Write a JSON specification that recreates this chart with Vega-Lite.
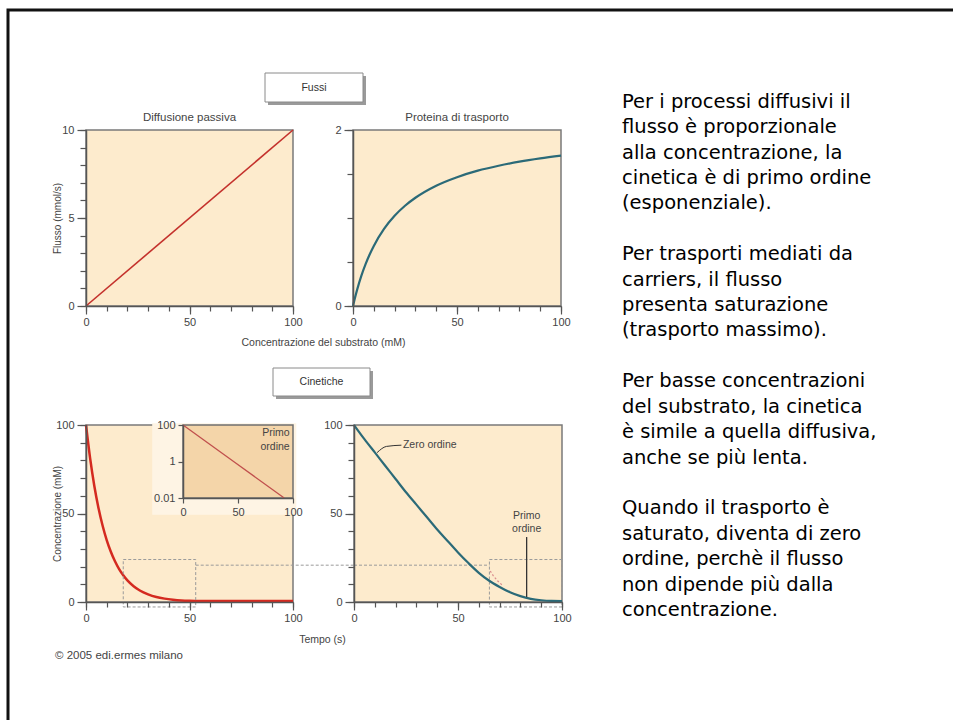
{
  "$schema": "https://vega.github.io/schema/vega-lite/v6.json",
  "width": 945,
  "height": 710,
  "autosize": "none",
  "padding": {"left": 8, "top": 10, "right": 0, "bottom": 0},
  "background": "white",
  "title": {"text": "© 2005 edi.ermes milano", "orient": "bottom", "anchor": "start", "frame": "group", "dx": 47, "offset": -64, "baseline": "middle", "fontSize": 11.5, "font": "Liberation Sans", "fontWeight": "normal", "color": "#444"},
  "config": {
    "view": {"stroke": "#111", "strokeWidth": 3, "strokeDash": [945, 1655, 710]},
    "axis": {"labelFont": "Liberation Sans", "labelFontSize": 11, "labelColor": "#444", "domainColor": "#555", "domainWidth": 1.5, "tickColor": "#555", "tickWidth": 1.2, "grid": false, "titleFont": "Liberation Sans", "titleFontSize": 10.5, "titleColor": "#444", "titleFontWeight": "normal", "labelFlush": false, "labelOverlap": false, "labelPadding": 3},
    "text": {"font": "Liberation Sans", "fontSize": 11, "color": "#444"}
  },
  "resolve": {"scale": {"x": "independent", "y": "independent"}, "axis": {"x": "independent", "y": "independent"}},
  "layer": [
    {
      "resolve": {"axis": {"x": "independent", "y": "independent"}},
      "layer": [
        {
          "data": {"values": [{"x0": 0, "x1": 100, "y0": 0, "y1": 10}]},
          "mark": {"type": "rect", "fill": "#FDEBCD", "stroke": "#7a7a7a", "strokeWidth": 1.5},
          "encoding": {
            "x": {"field": "x0", "type": "quantitative", "scale": {"domain": [0, 100], "range": [78, 285], "nice": false, "zero": false},
                  "axis": {"orient": "bottom", "offset": -414, "zindex": 1, "values": [0,10,20,30,40,50,60,70,80,90,100], "labels": false, "tickSize": 5, "title": null}},
            "x2": {"field": "x1"},
            "y": {"field": "y0", "type": "quantitative", "scale": {"domain": [0, 10], "range": [296, 120], "nice": false, "zero": false},
                  "axis": {"orient": "left", "offset": -78, "zindex": 1, "values": [0,1,2,3,4,5,6,7,8,9,10], "labels": false, "tickSize": 6, "title": null}},
            "y2": {"field": "y1"}
          }
        },
        {
          "data": {"values": [{"c": 0, "f": 0}, {"c": 100, "f": 10}]},
          "mark": {"type": "line", "color": "#C4312C", "strokeWidth": 1.6},
          "encoding": {
            "x": {"field": "c", "type": "quantitative", "axis": {"orient": "bottom", "offset": -414, "zindex": 1, "values": [0, 50, 100], "format": "d", "tickSize": 8, "labelPadding": 2, "domain": false, "title": "Concentrazione del substrato (mM)", "titleX": 315, "titleY": 36, "titleBaseline": "middle"}},
            "y": {"field": "f", "type": "quantitative", "axis": {"orient": "left", "offset": -78, "zindex": 1, "values": [0, 5, 10], "format": "d", "tickSize": 9, "domain": false, "title": "Flusso (mmol/s)", "titleX": -29, "titleY": 208, "titleBaseline": "middle", "titleFontSize": 10}}
          }
        },
        {
          "data": {"values": [{"x": 50, "y": 10, "t": "Diffusione passiva"}]},
          "mark": {"type": "text", "baseline": "middle", "dy": -12, "fontSize": 11.5},
          "encoding": {"x": {"field": "x", "type": "quantitative", "axis": null}, "y": {"field": "y", "type": "quantitative", "axis": null}, "text": {"field": "t"}}
        }
      ]
    },
    {
      "resolve": {"axis": {"x": "independent", "y": "independent"}},
      "layer": [
        {
          "data": {"values": [{"x0": 0, "x1": 100, "y0": 0, "y1": 2}]},
          "mark": {"type": "rect", "fill": "#FDEBCD", "stroke": "#7a7a7a", "strokeWidth": 1.5},
          "encoding": {
            "x": {"field": "x0", "type": "quantitative", "scale": {"domain": [0, 100], "range": [345, 553], "nice": false, "zero": false},
                  "axis": {"orient": "bottom", "offset": -414, "zindex": 1, "values": [0,10,20,30,40,50,60,70,80,90,100], "labels": false, "tickSize": 5, "title": null}},
            "x2": {"field": "x1"},
            "y": {"field": "y0", "type": "quantitative", "scale": {"domain": [0, 2], "range": [296, 120], "nice": false, "zero": false},
                  "axis": {"orient": "left", "offset": -345, "zindex": 1, "values": [0, 0.5, 1, 1.5, 2], "labels": false, "tickSize": 6, "title": null}},
            "y2": {"field": "y1"}
          }
        },
        {
          "data": {"values": [
            {"c": 0, "f": 0}, {"c": 1, "f": 0.098}, {"c": 2, "f": 0.186}, {"c": 4, "f": 0.342}, {"c": 6, "f": 0.473}, {"c": 8, "f": 0.586},
            {"c": 10, "f": 0.683}, {"c": 15, "f": 0.879}, {"c": 20, "f": 1.025}, {"c": 25, "f": 1.139}, {"c": 30, "f": 1.23},
            {"c": 40, "f": 1.367}, {"c": 50, "f": 1.464}, {"c": 60, "f": 1.538}, {"c": 70, "f": 1.594}, {"c": 80, "f": 1.64},
            {"c": 90, "f": 1.677}, {"c": 100, "f": 1.708}
          ]},
          "mark": {"type": "line", "color": "#2B6A78", "strokeWidth": 2.2, "interpolate": "monotone"},
          "encoding": {
            "x": {"field": "c", "type": "quantitative", "axis": {"orient": "bottom", "offset": -414, "zindex": 1, "values": [0, 50, 100], "format": "d", "tickSize": 8, "labelPadding": 2, "domain": false, "title": null}},
            "y": {"field": "f", "type": "quantitative", "axis": {"orient": "left", "offset": -345, "zindex": 1, "values": [0, 1, 2], "format": "d", "tickSize": 9, "domain": false, "title": null}}
          }
        },
        {
          "data": {"values": [{"x": 50, "y": 2, "t": "Proteina di trasporto"}]},
          "mark": {"type": "text", "baseline": "middle", "dy": -12, "fontSize": 11.5},
          "encoding": {"x": {"field": "x", "type": "quantitative", "axis": null}, "y": {"field": "y", "type": "quantitative", "axis": null}, "text": {"field": "t"}}
        }
      ]
    },
    {
      "resolve": {"axis": {"x": "independent", "y": "independent"}},
      "layer": [
        {
          "data": {"values": [{"x0": 0, "x1": 100, "y0": 0, "y1": 100}]},
          "mark": {"type": "rect", "fill": "#FDEBCD", "stroke": "#7a7a7a", "strokeWidth": 1.5},
          "encoding": {
            "x": {"field": "x0", "type": "quantitative", "scale": {"domain": [0, 100], "range": [78, 285], "nice": false, "zero": false},
                  "axis": {"orient": "bottom", "offset": -118, "zindex": 1, "values": [0,10,20,30,40,50,60,70,80,90,100], "labels": false, "tickSize": 5, "title": null}},
            "x2": {"field": "x1"},
            "y": {"field": "y0", "type": "quantitative", "scale": {"domain": [0, 100], "range": [592, 415], "nice": false, "zero": false},
                  "axis": {"orient": "left", "offset": -78, "zindex": 1, "values": [0,10,20,30,40,50,60,70,80,90,100], "labels": false, "tickSize": 6, "title": null}},
            "y2": {"field": "y1"}
          }
        },
        {
          "data": {"values": [
            {"t": 0, "c": 100}, {"t": 2, "c": 81.1}, {"t": 4, "c": 65.7}, {"t": 6, "c": 53.3}, {"t": 8, "c": 43.2}, {"t": 10, "c": 35.0},
            {"t": 12, "c": 28.4}, {"t": 14, "c": 23.0}, {"t": 16, "c": 18.6}, {"t": 18, "c": 15.1}, {"t": 20, "c": 12.2}, {"t": 23, "c": 8.9},
            {"t": 26, "c": 6.5}, {"t": 30, "c": 4.3}, {"t": 34, "c": 2.8}, {"t": 38, "c": 1.9}, {"t": 42, "c": 1.3}, {"t": 46, "c": 0.9},
            {"t": 50, "c": 0.7}, {"t": 56, "c": 0.6}, {"t": 100, "c": 0.6}
          ]},
          "mark": {"type": "line", "color": "#D42A20", "strokeWidth": 2.5, "interpolate": "monotone"},
          "encoding": {
            "x": {"field": "t", "type": "quantitative", "axis": {"orient": "bottom", "offset": -118, "zindex": 1, "values": [0, 50, 100], "format": "d", "tickSize": 8, "labelPadding": 2, "domain": false, "title": "Tempo (s)", "titleX": 314, "titleY": 37, "titleBaseline": "middle"}},
            "y": {"field": "c", "type": "quantitative", "axis": {"orient": "left", "offset": -78, "zindex": 1, "values": [0, 50, 100], "format": "d", "tickSize": 9, "domain": false, "title": "Concentrazione (mM)", "titleX": -29, "titleY": 503.5, "titleBaseline": "middle", "titleFontSize": 10}}
          }
        },
        {
          "data": {"values": [{"x0": 18, "x1": 53, "y0": -2.8, "y1": 24}]},
          "mark": {"type": "rect", "fill": null, "stroke": "#9a9a9a", "strokeWidth": 1, "strokeDash": [3, 2]},
          "encoding": {"x": {"field": "x0", "type": "quantitative", "axis": null}, "x2": {"field": "x1"}, "y": {"field": "y0", "type": "quantitative", "axis": null}, "y2": {"field": "y1"}}
        },
        {
          "data": {"values": [{"x0": 53, "x1": 129.5, "y": 20.8}]},
          "mark": {"type": "rule", "stroke": "#9a9a9a", "strokeWidth": 1, "strokeDash": [3, 2]},
          "encoding": {"x": {"field": "x0", "type": "quantitative", "axis": null}, "x2": {"field": "x1"}, "y": {"field": "y", "type": "quantitative", "axis": null}}
        }
      ]
    },
    {
      "resolve": {"axis": {"x": "independent", "y": "independent"}},
      "layer": [
        {
          "data": {"values": [{"x0": -28, "x1": 103, "y0": 0.0012, "y1": 125}]},
          "mark": {"type": "rect", "fill": "#FEF4E4"},
          "encoding": {
            "x": {"field": "x0", "type": "quantitative", "scale": {"domain": [0, 100], "range": [175, 285], "nice": false, "zero": false}, "axis": null},
            "x2": {"field": "x1"},
            "y": {"field": "y0", "type": "quantitative", "scale": {"type": "log", "domain": [0.01, 100], "range": [488, 415], "nice": false}, "axis": null},
            "y2": {"field": "y1"}
          }
        },
        {
          "data": {"values": [{"x0": 0, "x1": 100, "y0": 0.01, "y1": 100}]},
          "mark": {"type": "rect", "fill": "#F4D5A9", "stroke": "#6f6f6f", "strokeWidth": 1.5},
          "encoding": {
            "x": {"field": "x0", "type": "quantitative", "axis": {"orient": "bottom", "offset": -222, "zindex": 2, "values": [0, 50, 100], "format": "d", "tickSize": 5, "labelPadding": 3, "title": null}},
            "x2": {"field": "x1"},
            "y": {"field": "y0", "type": "quantitative", "axis": {"orient": "left", "offset": -175, "zindex": 2, "values": [0.01, 1, 100], "labelExpr": "datum.value >= 1 ? format(datum.value, 'd') : format(datum.value, '.2f')", "tickSize": 5, "labelPadding": 3, "title": null}},
            "y2": {"field": "y1"}
          }
        },
        {
          "data": {"values": [{"t": 0, "c": 100}, {"t": 46, "c": 1}, {"t": 92, "c": 0.01}]},
          "mark": {"type": "line", "color": "#C0504D", "strokeWidth": 1.3},
          "encoding": {"x": {"field": "t", "type": "quantitative", "axis": null}, "y": {"field": "c", "type": "quantitative", "axis": null}}
        },
        {
          "data": {"values": [{"x": 97, "y": 100, "t": "Primo\nordine"}]},
          "mark": {"type": "text", "align": "right", "baseline": "top", "dy": 3, "lineBreak": "\n", "lineHeight": 14, "fontSize": 10.5},
          "encoding": {"x": {"field": "x", "type": "quantitative", "axis": null}, "y": {"field": "y", "type": "quantitative", "axis": null}, "text": {"field": "t"}}
        }
      ]
    },
    {
      "resolve": {"axis": {"x": "independent", "y": "independent"}},
      "layer": [
        {
          "data": {"values": [{"x0": 0, "x1": 100, "y0": 0, "y1": 100}]},
          "mark": {"type": "rect", "fill": "#FDEBCD", "stroke": "#7a7a7a", "strokeWidth": 1.5},
          "encoding": {
            "x": {"field": "x0", "type": "quantitative", "scale": {"domain": [0, 100], "range": [346, 554], "nice": false, "zero": false},
                  "axis": {"orient": "bottom", "offset": -118, "zindex": 1, "values": [0,10,20,30,40,50,60,70,80,90,100], "labels": false, "tickSize": 5, "title": null}},
            "x2": {"field": "x1"},
            "y": {"field": "y0", "type": "quantitative", "scale": {"domain": [0, 100], "range": [592, 415], "nice": false, "zero": false},
                  "axis": {"orient": "left", "offset": -346, "zindex": 1, "values": [0,10,20,30,40,50,60,70,80,90,100], "labels": false, "tickSize": 6, "title": null}},
            "y2": {"field": "y1"}
          }
        },
        {
          "data": {"values": [{"x0": 65.1, "x1": 100, "y0": -2.8, "y1": 24}]},
          "mark": {"type": "rect", "fill": null, "stroke": "#9a9a9a", "strokeWidth": 1, "strokeDash": [3, 2]},
          "encoding": {"x": {"field": "x0", "type": "quantitative", "axis": null}, "x2": {"field": "x1"}, "y": {"field": "y0", "type": "quantitative", "axis": null}, "y2": {"field": "y1"}}
        },
        {
          "data": {"values": [{"x0": 0, "x1": 65.1, "y": 20.8}]},
          "mark": {"type": "rule", "stroke": "#9a9a9a", "strokeWidth": 1, "strokeDash": [3, 2]},
          "encoding": {"x": {"field": "x0", "type": "quantitative", "axis": null}, "x2": {"field": "x1"}, "y": {"field": "y", "type": "quantitative", "axis": null}}
        },
        {
          "data": {"values": [
            {"t": 0, "c": 100}, {"t": 5, "c": 92}, {"t": 10, "c": 84.5}, {"t": 15, "c": 77}, {"t": 20, "c": 69.5}, {"t": 25, "c": 62},
            {"t": 30, "c": 55}, {"t": 35, "c": 48}, {"t": 40, "c": 41}, {"t": 45, "c": 34.5}, {"t": 50, "c": 28}, {"t": 55, "c": 22},
            {"t": 60, "c": 16.5}, {"t": 65, "c": 12}, {"t": 70, "c": 8.5}, {"t": 75, "c": 5.5}, {"t": 80, "c": 3.3}, {"t": 85, "c": 1.8},
            {"t": 90, "c": 1.0}, {"t": 95, "c": 0.6}, {"t": 100, "c": 0.5}
          ]},
          "mark": {"type": "line", "color": "#2B6A78", "strokeWidth": 2.2, "interpolate": "monotone"},
          "encoding": {
            "x": {"field": "t", "type": "quantitative", "axis": {"orient": "bottom", "offset": -118, "zindex": 1, "values": [0, 50, 100], "format": "d", "tickSize": 8, "labelPadding": 2, "domain": false, "title": null}},
            "y": {"field": "c", "type": "quantitative", "axis": {"orient": "left", "offset": -346, "zindex": 1, "values": [0, 50, 100], "format": "d", "tickSize": 9, "domain": false, "title": null}}
          }
        },
        {
          "data": {"values": [{"t": 65.5, "c": 17.5}, {"t": 67, "c": 14.8}, {"t": 69, "c": 12}, {"t": 71.5, "c": 9.3}]},
          "mark": {"type": "line", "color": "#D98A8C", "strokeWidth": 1.2, "strokeDash": [2, 2]},
          "encoding": {"x": {"field": "t", "type": "quantitative", "axis": null}, "y": {"field": "c", "type": "quantitative", "axis": null}}
        },
        {
          "data": {"values": [{"t": 11.1, "c": 84.4}, {"t": 15.6, "c": 87.9}, {"t": 22.8, "c": 88.6}]},
          "mark": {"type": "line", "color": "#333", "strokeWidth": 1, "interpolate": "monotone"},
          "encoding": {"x": {"field": "t", "type": "quantitative", "axis": null}, "y": {"field": "c", "type": "quantitative", "axis": null}}
        },
        {
          "data": {"values": [{"x": 83, "y1": 36.7, "y2": 2.8}]},
          "mark": {"type": "rule", "color": "#333", "strokeWidth": 1.3},
          "encoding": {"x": {"field": "x", "type": "quantitative", "axis": null}, "y": {"field": "y1", "type": "quantitative", "axis": null}, "y2": {"field": "y2"}}
        },
        {
          "data": {"values": [{"x": 23.5, "y": 88.6, "t": "Zero ordine"}]},
          "mark": {"type": "text", "align": "left", "baseline": "middle", "fontSize": 10.5},
          "encoding": {"x": {"field": "x", "type": "quantitative", "axis": null}, "y": {"field": "y", "type": "quantitative", "axis": null}, "text": {"field": "t"}}
        },
        {
          "data": {"values": [{"x": 83, "y": 51.5, "t": "Primo\nordine"}]},
          "mark": {"type": "text", "align": "center", "baseline": "top", "lineBreak": "\n", "lineHeight": 13, "fontSize": 10.5},
          "encoding": {"x": {"field": "x", "type": "quantitative", "axis": null}, "y": {"field": "y", "type": "quantitative", "axis": null}, "text": {"field": "t"}}
        }
      ]
    },
    {
      "data": {"values": [{"label": "Fussi", "a": 0, "b": 1}]},
      "layer": [
        {
          "mark": {"type": "rect", "fill": "#9a9a9a", "xOffset": 3, "x2Offset": 3, "yOffset": 3, "y2Offset": 3},
          "encoding": {
            "x": {"field": "a", "type": "quantitative", "scale": {"domain": [0, 1], "range": [257, 355], "nice": false, "zero": false}, "axis": null},
            "x2": {"field": "b"},
            "y": {"field": "a", "type": "quantitative", "scale": {"domain": [0, 1], "range": [92, 63], "nice": false, "zero": false}, "axis": null},
            "y2": {"field": "b"}
          }
        },
        {
          "mark": {"type": "rect", "fill": "white", "stroke": "#8a8a8a", "strokeWidth": 1},
          "encoding": {"x": {"field": "a", "type": "quantitative", "axis": null}, "x2": {"field": "b"}, "y": {"field": "a", "type": "quantitative", "axis": null}, "y2": {"field": "b"}}
        },
        {
          "mark": {"type": "text", "baseline": "middle", "fontSize": 10.5, "color": "#333"},
          "encoding": {"x": {"datum": 0.5, "type": "quantitative", "axis": null}, "y": {"datum": 0.5, "type": "quantitative", "axis": null}, "text": {"field": "label"}}
        }
      ]
    },
    {
      "data": {"values": [{"label": "Cinetiche", "a": 0, "b": 1}]},
      "layer": [
        {
          "mark": {"type": "rect", "fill": "#9a9a9a", "xOffset": 3, "x2Offset": 3, "yOffset": 3, "y2Offset": 3},
          "encoding": {
            "x": {"field": "a", "type": "quantitative", "scale": {"domain": [0, 1], "range": [265, 362], "nice": false, "zero": false}, "axis": null},
            "x2": {"field": "b"},
            "y": {"field": "a", "type": "quantitative", "scale": {"domain": [0, 1], "range": [386, 358], "nice": false, "zero": false}, "axis": null},
            "y2": {"field": "b"}
          }
        },
        {
          "mark": {"type": "rect", "fill": "white", "stroke": "#8a8a8a", "strokeWidth": 1},
          "encoding": {"x": {"field": "a", "type": "quantitative", "axis": null}, "x2": {"field": "b"}, "y": {"field": "a", "type": "quantitative", "axis": null}, "y2": {"field": "b"}}
        },
        {
          "mark": {"type": "text", "baseline": "middle", "fontSize": 10.5, "color": "#333"},
          "encoding": {"x": {"datum": 0.5, "type": "quantitative", "axis": null}, "y": {"datum": 0.5, "type": "quantitative", "axis": null}, "text": {"field": "label"}}
        }
      ]
    },
    {
      "data": {"values": [
        {"line": 0, "txt": "Per i processi diffusivi il"},
        {"line": 1, "txt": "flusso è proporzionale"},
        {"line": 2, "txt": "alla concentrazione, la"},
        {"line": 3, "txt": "cinetica è di primo ordine"},
        {"line": 4, "txt": "(esponenziale)."},
        {"line": 6, "txt": "Per trasporti mediati da"},
        {"line": 7, "txt": "carriers, il flusso"},
        {"line": 8, "txt": "presenta saturazione"},
        {"line": 9, "txt": "(trasporto massimo)."},
        {"line": 11, "txt": "Per basse concentrazioni"},
        {"line": 12, "txt": "del substrato, la cinetica"},
        {"line": 13, "txt": "è simile a quella diffusiva,"},
        {"line": 14, "txt": "anche se più lenta."},
        {"line": 16, "txt": "Quando il trasporto è"},
        {"line": 17, "txt": "saturato, diventa di zero"},
        {"line": 18, "txt": "ordine, perchè il flusso"},
        {"line": 19, "txt": "non dipende più dalla"},
        {"line": 20, "txt": "concentrazione."}
      ]},
      "mark": {"type": "text", "align": "left", "baseline": "middle", "font": "DejaVu Sans", "fontSize": 19.5, "color": "#000"},
      "encoding": {
        "x": {"datum": 0, "type": "quantitative", "scale": {"domain": [0, 1], "range": [614, 944], "nice": false, "zero": false}, "axis": null},
        "y": {"field": "line", "type": "quantitative", "scale": {"domain": [0, 20], "range": [91.7, 600], "nice": false, "zero": false}, "axis": null},
        "text": {"field": "txt"}
      }
    }
  ]
}
